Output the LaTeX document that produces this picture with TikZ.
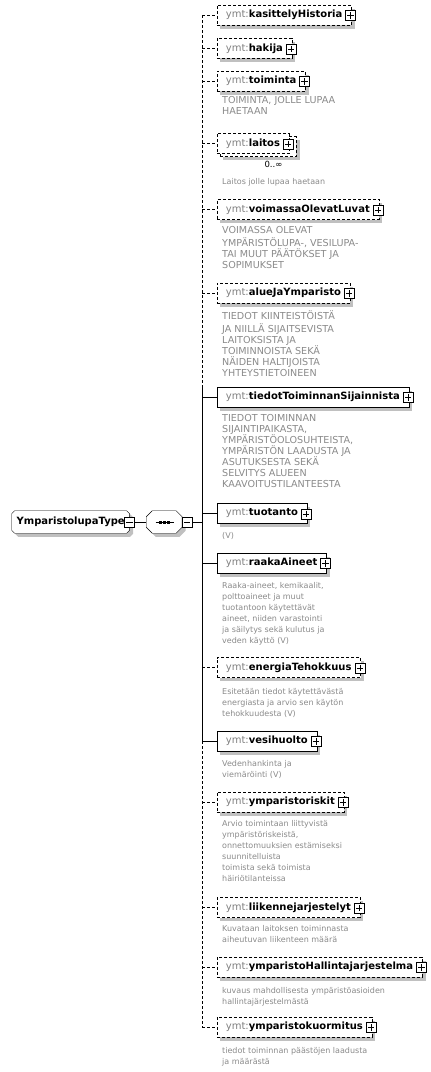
\documentclass[tikz,border=0pt]{standalone}
\usepackage{fontspec}
\setmainfont{DejaVu Sans}
\usetikzlibrary{shadows,backgrounds}
\definecolor{ymtgray}{HTML}{808080}
\definecolor{descgray}{HTML}{8A8A8A}
\definecolor{shadowgray}{HTML}{C0C0C0}
\newcommand\ymt[1]{{\mdseries\color{ymtgray}ymt:}#1\hspace{4pt}}
\newcommand\chamf[4]{([xshift=#2+#3,yshift=#4]#1.north west) -- ([xshift=-#2+#3,yshift=#4]#1.north east) -- ([xshift=#3,yshift=-#2+#4]#1.north east) -- ([xshift=#3,yshift=#2+#4]#1.south east) -- ([xshift=-#2+#3,yshift=#4]#1.south east) -- ([xshift=#2+#3,yshift=#4]#1.south west) -- ([xshift=#3,yshift=#2+#4]#1.south west) -- ([xshift=#3,yshift=-#2+#4]#1.north west) -- cycle}
\tikzset{
  elemns/.style={draw, fill=white, anchor=west, minimum height=20pt, inner xsep=9pt, inner ysep=0pt,
    font=\fontsize{10}{11}\selectfont\bfseries},
  elem/.style={elemns, drop shadow={shadow xshift=3.5pt, shadow yshift=-3.5pt, fill=shadowgray, opacity=1}},
  opt/.style={dash pattern=on 3pt off 2pt},
  iconbox/.style={draw, fill=white, minimum size=10pt, inner sep=0pt},
  desc/.style={anchor=north west, inner sep=0pt, align=left, text=descgray, font=\fontsize{8}{11}\selectfont},
  descuc/.style={desc, font=\fontsize{9.6}{11}\selectfont},
  rootbox/.style={anchor=west, inner xsep=4.5pt, inner ysep=0pt, minimum height=21.6pt, font=\fontsize{10}{11}\selectfont\bfseries},
  seqbox/.style={minimum width=35pt, minimum height=21.6pt, inner sep=0pt},
  multlabel/.style={inner sep=0pt, font=\fontsize{8.5}{10}\selectfont}
}
\begin{document}
\begin{tikzpicture}[x=1pt, y=-1pt, line width=0.9pt]
\useasboundingbox (0,0) rectangle (431,1072);

% root and compositor
\node[rootbox] (root) at (11.7,522) {YmparistolupaType\hspace{13.5pt}};
\node[seqbox] (seq) at (164.2,522) {};
\begin{pgfonlayer}{background}
  \fill[shadowgray] \chamf{root}{3pt}{3.5pt}{(-3.5pt)};
  \draw[fill=white] \chamf{root}{3pt}{0pt}{0pt};
  \fill[shadowgray] \chamf{seq}{6pt}{3.5pt}{(-3.5pt)};
  \draw[fill=white] \chamf{seq}{6pt}{0pt}{0pt};
\end{pgfonlayer}
\draw ([xshift=-8.5pt]seq.center) -- ([xshift=9.5pt]seq.center);
\foreach \dx in {-3.8,0,3.8} \fill ([xshift=\dx pt]seq.center) +(-1.5pt,-1.5pt) rectangle +(1.5pt,1.5pt);
\node[iconbox] (m1) at (root.east) {};
\node[iconbox] (m2) at ([xshift=5pt]seq.east) {};
\draw ([xshift=2pt]m1.west) -- ([xshift=-2pt]m1.east);
\draw ([xshift=2pt]m2.west) -- ([xshift=-2pt]m2.east);
\coordinate (bus) at (202.3,522);
\coordinate (bt) at (202.3,386);
\draw (m1.east) -- (seq.west);
\draw (m2.east) -- (bus);

% elements
\node[elem,opt] (e1) at (216.7,15) {\ymt{kasittelyHistoria}};
\node[elem,opt] (e2) at (216.7,48.3) {\ymt{hakija}};
\node[elem,opt] (e3) at (216.7,81) {\ymt{toiminta}};
\node[elem,opt] (e4b) at (219.7,146.5) {\phantom{\ymt{laitos}}};
\node[elemns,opt] (e4) at (216.7,143.5) {\ymt{laitos}};
\node[elem,opt] (e5) at (216.7,209.5) {\ymt{voimassaOlevatLuvat}};
\node[elem,opt] (e6) at (216.7,293) {\ymt{alueJaYmparisto}};
\node[elem] (e7) at (216.7,397) {\ymt{tiedotToiminnanSijainnista}};
\node[elem] (e8) at (216.7,513.3) {\ymt{tuotanto}};
\node[elem] (e9) at (216.7,563) {\ymt{raakaAineet}};
\node[elem,opt] (e10) at (216.7,667.5) {\ymt{energiaTehokkuus}};
\node[elem] (e11) at (216.7,741) {\ymt{vesihuolto}};
\node[elem,opt] (e12) at (216.7,802) {\ymt{ymparistoriskit}};
\node[elem,opt] (e13) at (216.7,907.5) {\ymt{liikennejarjestelyt}};
\node[elem,opt] (e14) at (216.7,967) {\ymt{ymparistoHallintajarjestelma}};
\node[elem,opt] (e15) at (216.7,1027) {\ymt{ymparistokuormitus}};

% plus icons
\foreach \i in {1,...,15} {
  \node[iconbox] (p\i) at ([xshift=-1pt,yshift=-0.5pt]e\i.east) {};
  \draw ([xshift=2pt]p\i.west) -- ([xshift=-2pt]p\i.east);
  \draw ([yshift=-2pt]p\i.north) -- ([yshift=2pt]p\i.south);
}

% bus and connectors
\draw[opt] (bus|-e1.west) -- (bt);
\draw (bt) -- (bus|-e11.west);
\draw[opt] (bus|-e11.west) -- (bus|-e15.west);
\foreach \i in {1,2,3,4,5,6,10,12,13,14,15} \draw[opt] (bus|-e\i.west) -- (e\i.west);
\foreach \i in {7,8,9,11} \draw (bus|-e\i.west) -- (e\i.west);

% multiplicity
\node[multlabel] (mult4) at (273.5,164) {0..∞};

% descriptions
\node[descuc] (d3) at (222,95.5) {\strut TOIMINTA, JOLLE LUPAA\\HAETAAN};
\node[desc] (d4) at (222,177) {\strut Laitos jolle lupaa haetaan};
\node[descuc] (d5) at (222,225.5) {\strut VOIMASSA OLEVAT\\YMPÄRISTÖLUPA-, VESILUPA-\\TAI MUUT PÄÄTÖKSET JA\\SOPIMUKSET};
\node[descuc] (d6) at (222,310.5) {\strut TIEDOT KIINTEISTÖISTÄ\\JA NIILLÄ SIJAITSEVISTA\\LAITOKSISTA JA\\TOIMINNOISTA SEKÄ\\NÄIDEN HALTIJOISTA\\YHTEYSTIETOINEEN};
\node[descuc] (d7) at (222,413.5) {\strut TIEDOT TOIMINNAN\\SIJAINTIPAIKASTA,\\YMPÄRISTÖOLOSUHTEISTA,\\YMPÄRISTÖN LAADUSTA JA\\ASUTUKSESTA SEKÄ\\SELVITYS ALUEEN\\KAAVOITUSTILANTEESTA};
\node[desc] (d8) at (222,530.5) {\strut (V)};
\node[desc] (d9) at (222,580.5) {\strut Raaka-aineet, kemikaalit,\\polttoaineet ja muut\\tuotantoon käytettävät\\aineet, niiden varastointi\\ja säilytys sekä kulutus ja\\veden käyttö (V)};
\node[desc] (d10) at (222,686.5) {\strut Esitetään tiedot käytettävästä\\energiasta ja arvio sen käytön\\tehokkuudesta (V)};
\node[desc] (d11) at (222,758.5) {\strut Vedenhankinta ja\\viemäröinti (V)};
\node[desc] (d12) at (222,818.5) {\strut Arvio toimintaan liittyvistä\\ympäristöriskeistä,\\onnettomuuksien estämiseksi\\suunnitelluista\\toimista sekä toimista\\häiriötilanteissa};
\node[desc] (d13) at (222,923.5) {\strut Kuvataan laitoksen toiminnasta\\aiheutuvan liikenteen määrä};
\node[desc] (d14) at (222,985.5) {\strut kuvaus mahdollisesta ympäristöasioiden\\hallintajärjestelmästä};
\node[desc] (d15) at (222,1045.5) {\strut tiedot toiminnan päästöjen laadusta\\ja määrästä};
\end{tikzpicture}
\end{document}
